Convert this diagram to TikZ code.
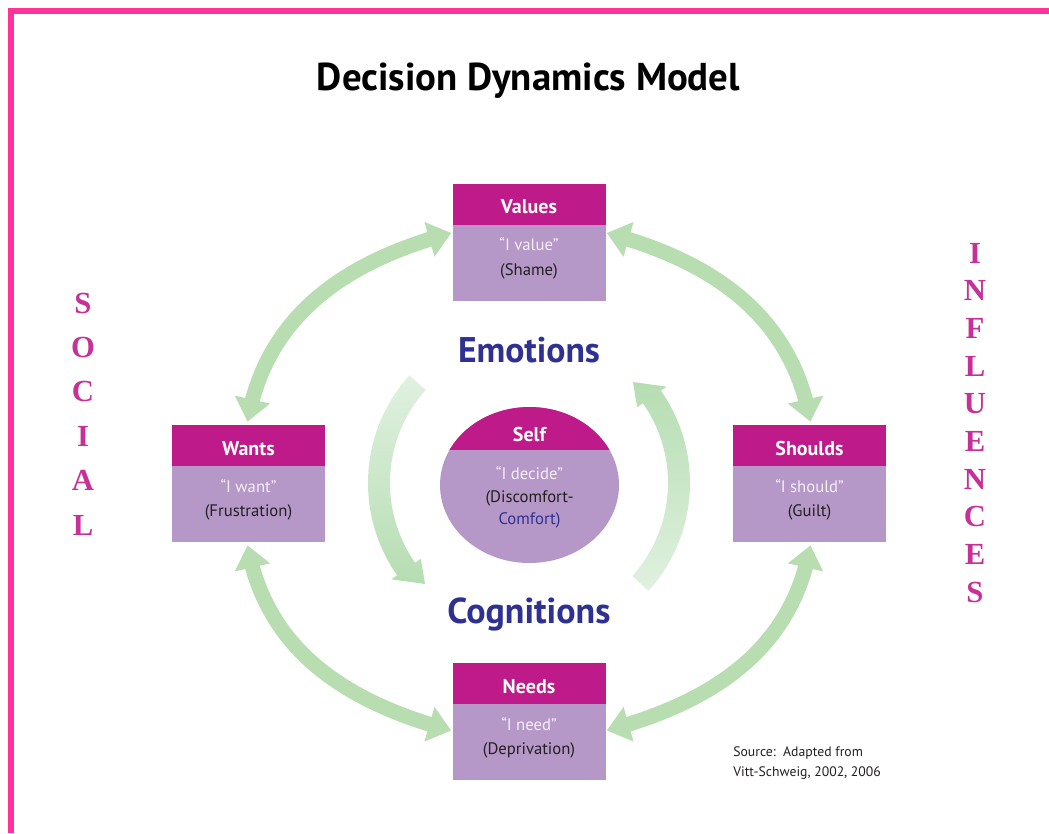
\documentclass[tikz,border=0pt]{standalone}
\usepackage{fontspec}
\setmainfont{PT Sans}
\newfontfamily\sideserif{Liberation Serif}
\usetikzlibrary{arrows.meta,bending,shapes.geometric,calc}
\definecolor{borderpink}{RGB}{255,51,153}
\definecolor{headmag}{RGB}{190,26,138}
\definecolor{lilac}{RGB}{182,152,200}
\definecolor{lighttxt}{RGB}{246,238,246}
\definecolor{darktxt}{RGB}{35,31,32}
\definecolor{navy}{RGB}{46,49,146}
\definecolor{arrowgreen}{RGB}{183,221,177}
\definecolor{arclight}{RGB}{224,241,224}
\definecolor{arcdark}{RGB}{182,221,178}
\definecolor{sidepink}{RGB}{198,48,152}
\tikzset{
  bodybox/.style={fill=lilac, minimum width=114.75pt, minimum height=87.75pt, inner sep=0pt},
  headbox/.style={fill=headmag, minimum width=114.75pt, minimum height=30.75pt, inner sep=0pt},
  headtext/.style={text=white, inner sep=0pt, font=\fontsize{15}{18}\selectfont\bfseries},
  linetext/.style={text=darktxt, align=center, inner sep=0pt, font=\fontsize{12.5}{18.5}\selectfont},
  bigarrow/.style={draw=arrowgreen, line width=11.25pt, {Triangle[width=26pt,length=17pt]}-{Triangle[width=26pt,length=17pt]}},
  sideletter/.style={text=sidepink, inner sep=0pt, font=\sideserif\bfseries\fontsize{23}{23}\selectfont},
  bigword/.style={text=navy, inner sep=0pt, font=\bfseries},
}
\begin{document}
\begin{tikzpicture}[x=0.75pt,y=-0.75pt]
\useasboundingbox (0,0) rectangle (1049,833);
% border
\draw[borderpink, line width=4.5pt] (11,833) -- (11,11) -- (1049,11);
% title
\node[inner sep=0pt] (title) at (528.5,81) {\resizebox{317.25pt}{!}{\bfseries Decision Dynamics Model}};

% boxes
\node[bodybox] (values) at (529,242) {};
\node[headbox, anchor=north] (valuesH) at (values.north) {};
\node[headtext] at ($(valuesH.center)+(0,3)$) {Values};
\node[linetext] at ($(values.center)+(0,16.5)$) {{\color{lighttxt}“I value”}\\(Shame)};

\node[bodybox] (wants) at (248.5,483.5) {};
\node[headbox, anchor=north] (wantsH) at (wants.north) {};
\node[headtext] at ($(wantsH.center)+(0,3)$) {Wants};
\node[linetext] at ($(wants.center)+(0,16.5)$) {{\color{lighttxt}“I want”}\\(Frustration)};

\node[bodybox] (shoulds) at (809.5,483.5) {};
\node[headbox, anchor=north] (shouldsH) at (shoulds.north) {};
\node[headtext] at ($(shouldsH.center)+(0,3)$) {Shoulds};
\node[linetext] at ($(shoulds.center)+(0,16.5)$) {{\color{lighttxt}“I should”}\\(Guilt)};

\node[bodybox] (needs) at (529,721.5) {};
\node[headbox, anchor=north] (needsH) at (needs.north) {};
\node[headtext] at ($(needsH.center)+(0,3)$) {Needs};
\node[linetext] at ($(needs.center)+(0,16.5)$) {{\color{lighttxt}“I need”}\\(Deprivation)};

% self
\node[ellipse, fill=lilac, minimum width=134.25pt, minimum height=117pt, inner sep=0pt] (self) at (529.5,485) {};
\begin{scope}
\clip (529.5,485) ellipse [x radius=89.5, y radius=78];
\fill[headmag] (430,400) rectangle (630,450);
\end{scope}
\node[headtext] (selfH) at (529.5,434) {Self};
\node[linetext, font=\fontsize{12.5}{16.9}\selectfont] (selfT) at (529.5,497.5) {{\color{lighttxt}“I decide”}\\(Discomfort-\\{\color{navy}Comfort)}};

% emotions / cognitions
\node[bigword] (emo) at (529,350) {\resizebox{106.5pt}{!}{Emotions}};
\node[bigword] (cog) at (529,614) {\resizebox{122.25pt}{!}{Cognitions}};

% inner curved arrows
\begin{scope}[shift={(529,483)}]
\shade[top color=arclight, bottom color=arcdark] (222:139) arc[start angle=222, end angle=145, radius=139] -- (145:132) -- (-104,101) -- (145:168) -- (145:161) arc[start angle=145, end angle=222, radius=161] -- cycle;
\shade[top color=arcdark, bottom color=arclight] (42:139) arc[start angle=42, end angle=-35, radius=139] -- (-35:132) -- (104,-101) -- (-35:168) -- (-35:161) arc[start angle=-35, end angle=42, radius=161] -- cycle;
\end{scope}

% outer double arrows
\draw[bigarrow] ($(wants.north)+(-1,-3)$) to[out=80, in=195] ($(values.west)+(-1,-9)$);
\draw[bigarrow] ($(values.east)+(1,-9)$) to[out=-15, in=100] ($(shoulds.north)+(1,-3)$);
\draw[bigarrow] ($(wants.south)+(-1,3)$) to[out=-80, in=165] ($(needs.west)+(-1,9)$);
\draw[bigarrow] ($(needs.east)+(1,9)$) to[out=15, in=-100] ($(shoulds.south)+(1,3)$);

% side letters
\foreach \ch [count=\i from 0] in {S,O,C,I,A,L}
  \node[sideletter] (soc\i) at (83,{303+44.4*\i}) {\ch};
\foreach \ch [count=\i from 0] in {I,N,F,L,U,E,N,C,E,S}
  \node[sideletter] (inf\i) at (975,{253+37.7*\i}) {\ch};

% source
\node[anchor=west, align=left, inner sep=0pt, text=darktxt, font=\fontsize{10.3}{15}\selectfont] (src) at (733,763) {Source:\ \ Adapted from\\Vitt-Schweig, 2002, 2006};
\end{tikzpicture}
\end{document}
